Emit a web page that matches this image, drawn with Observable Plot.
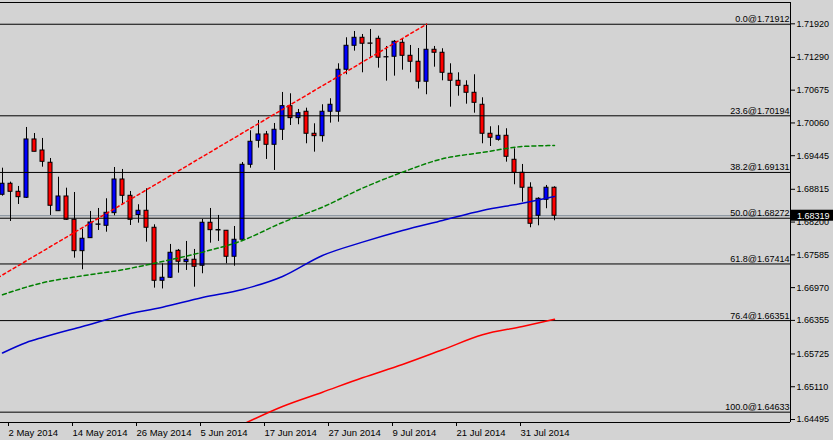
<!DOCTYPE html>
<html>
<head>
<meta charset="utf-8">
<script src="https://cdn.jsdelivr.net/npm/d3@7"></script>
<script src="https://cdn.jsdelivr.net/npm/@observablehq/plot@0.6"></script>
<style>
  html, body { margin: 0; padding: 0; background: #d3d3d3; }
  #chart svg { display: block; }
</style>
</head>
<body>
<div id="chart"></div>
<script>
// ---- Data (GBP/USD daily) ----
const firstDate = "2014-05-01";
const open = [1.68712,1.68919,1.68768,1.68656,1.69750,1.69543,1.69313,1.68404,1.68680,1.68243,
1.67654,1.67898,1.68149,1.68130,1.68367,1.68999,1.68693,1.68333,1.68412,1.68093,
1.67098,1.67155,1.67661,1.67448,1.67493,1.67380,1.68187,1.68052,1.68037,1.67549,
1.67868,1.69275,1.69725,1.69844,1.69650,1.69932,1.70375,1.70150,1.70270,1.69857,
1.69812,1.70270,1.70270,1.71058,1.71508,1.71658,1.71551,1.71639,1.71290,1.71302,
1.71564,1.71320,1.71208,1.70833,1.71433,1.71377,1.70983,1.70851,1.70757,1.70626,
1.70401,1.69857,1.69744,1.69819,1.69369,1.69125,1.68844,1.68318,1.68618,1.68844];
const high = [1.69211,1.68949,1.68868,1.69975,1.69862,1.69769,1.69393,1.69042,1.68836,1.68755,
1.68067,1.68399,1.68455,1.68637,1.69224,1.69187,1.68774,1.68525,1.68825,1.68149,
1.67417,1.67780,1.67686,1.67836,1.67686,1.68249,1.68455,1.68324,1.68042,1.68117,
1.69318,1.69913,1.70106,1.69900,1.70050,1.70632,1.70607,1.70313,1.70337,1.70044,
1.70401,1.70514,1.71170,1.71658,1.71776,1.71720,1.71814,1.71688,1.71495,1.71607,
1.71639,1.71514,1.71457,1.71912,1.71495,1.71452,1.71170,1.71001,1.70851,1.70964,
1.70532,1.69988,1.70007,1.69951,1.69575,1.69281,1.68937,1.68656,1.68887,1.68862];
const low = [1.68686,1.68211,1.68530,1.68643,1.69519,1.69230,1.68324,1.68399,1.68230,1.67523,
1.67305,1.67892,1.68042,1.68010,1.68318,1.68525,1.68136,1.68179,1.67823,1.66960,
1.66945,1.67142,1.67241,1.67292,1.66978,1.67230,1.67804,1.67836,1.67417,1.67372,
1.67842,1.69211,1.69587,1.69375,1.69168,1.69731,1.70012,1.70026,1.69669,1.69512,
1.69699,1.70056,1.70074,1.70964,1.71407,1.71001,1.71294,1.71088,1.70844,1.70938,
1.71050,1.71001,1.70697,1.70589,1.71106,1.70851,1.70356,1.70562,1.70412,1.70243,
1.69669,1.69618,1.69718,1.69324,1.68900,1.68573,1.68093,1.68130,1.68450,1.68224];
const close = [1.68919,1.68768,1.68667,1.69750,1.69519,1.69331,1.68506,1.68680,1.68243,1.67654,
1.67887,1.68192,1.68155,1.68374,1.68999,1.68693,1.68243,1.68412,1.68093,1.67098,
1.67155,1.67624,1.67455,1.67493,1.67361,1.68187,1.68048,1.68042,1.67549,1.67868,
1.69275,1.69707,1.69844,1.69650,1.69932,1.70375,1.70150,1.70243,1.69857,1.69812,
1.70270,1.70401,1.71058,1.71508,1.71658,1.71546,1.71546,1.71283,1.71294,1.71583,
1.71320,1.71208,1.70833,1.71433,1.71377,1.71001,1.70851,1.70757,1.70626,1.70438,
1.69857,1.69782,1.69819,1.69425,1.69125,1.68844,1.68168,1.68637,1.68844,1.68319];

// Moving averages sampled at these dates
const maGreenDates = ["2014-05-01","2014-05-08","2014-05-15","2014-05-22","2014-05-29","2014-06-05","2014-06-12","2014-06-19","2014-06-26","2014-07-03","2014-07-10","2014-07-17","2014-07-24","2014-07-31","2014-08-06"];
const maGreen = [1.66836,1.67061,1.67192,1.67305,1.67461,1.67635,1.67855,1.68192,1.68480,1.68836,1.69136,1.69388,1.69506,1.69618,1.69637];
const maBlueDates = ["2014-05-01","2014-05-06","2014-05-08","2014-05-15","2014-05-22","2014-05-29","2014-06-05","2014-06-12","2014-06-19","2014-06-26","2014-07-03","2014-07-10","2014-07-17","2014-07-24","2014-07-31","2014-08-06"];
const maBlue = [1.65744,1.65941,1.66035,1.66241,1.66447,1.66603,1.66785,1.66935,1.67179,1.67573,1.67823,1.68042,1.68230,1.68418,1.68555,1.68680];
const maRedDates = ["2014-06-12","2014-06-19","2014-06-26","2014-07-03","2014-07-10","2014-07-17","2014-07-24","2014-07-31","2014-08-06"];
const maRed = [1.64402,1.64740,1.65008,1.65278,1.65528,1.65804,1.66085,1.66241,1.66378];

// Fibonacci retracement
const fibLevels = [0.0, 23.6, 38.2, 50.0, 61.8, 76.4, 100.0];
const fibPrices = [1.71912, 1.70194, 1.69131, 1.68272, 1.67414, 1.66351, 1.64633];
const fibAnchorDates = ["2014-03-21", "2014-07-15"];
const fibAnchorPrices = [1.64633, 1.71912];

// Axis ticks
const yTicks = [1.71920, 1.71290, 1.70675, 1.70060, 1.69445, 1.68815, 1.68200, 1.67585, 1.66970, 1.66355, 1.65725, 1.65110, 1.64495];
const xTickLabels = ["2 May 2014","14 May 2014","26 May 2014","5 Jun 2014","17 Jun 2014","27 Jun 2014","9 Jul 2014","21 Jul 2014","31 Jul 2014"];
const months = ["Jan","Feb","Mar","Apr","May","Jun","Jul","Aug","Sep","Oct","Nov","Dec"];

// ---- Build ----
const DAY = 86400000;
const base = new Date(firstDate + "T00:00:00Z");
function tradingIndex(str) {
  const t = new Date(str + "T00:00:00Z");
  let n = 0;
  const step = t >= base ? 1 : -1;
  let d = new Date(base);
  while (d.getTime() !== t.getTime()) {
    d = new Date(d.getTime() + step * DAY);
    const wd = d.getUTCDay();
    if (wd !== 0 && wd !== 6) n += step;
  }
  return n;
}
const dates = [];
{
  let d = new Date(base);
  while (dates.length < open.length) {
    const wd = d.getUTCDay();
    if (wd !== 0 && wd !== 6) dates.push(new Date(d));
    d = new Date(d.getTime() + DAY);
  }
}
const fmt = d => `${d.getUTCDate()} ${months[d.getUTCMonth()]} ${d.getUTCFullYear()}`;
const candles = open.map((o, i) => ({i, open: o, high: high[i], low: low[i], close: close[i]}));
const series = (ds, vs) => ds.map((s, k) => ({i: tradingIndex(s), v: vs[k]}));
const greenData = series(maGreenDates, maGreen);
const blueData = series(maBlueDates, maBlue);
const redData = series(maRedDates, maRed);
const fibTrend = series(fibAnchorDates, fibAnchorPrices);
const fibs = fibLevels.map((l, k) => ({level: l, price: fibPrices[k]}));
const xTicks = xTickLabels.map(l => dates.findIndex(d => fmt(d) === l));
const lastClose = close[close.length - 1];

const xDomain = [-0.25, 98.5];
const yDomain = [1.64439, 1.72320];

const chart = Plot.plot({
  width: 833,
  height: 440,
  marginTop: 2,
  marginBottom: 18,
  marginLeft: 0,
  marginRight: 43,
  x: {type: "linear", domain: xDomain, axis: null, label: null},
  y: {type: "linear", domain: yDomain, axis: null, label: null},
  style: {background: "#d3d3d3", color: "black", fontFamily: "'Liberation Sans', Arial, sans-serif", fontSize: "9px"},
  marks: [
    Plot.ruleY([lastClose], {stroke: "#7f8c99"}),
    Plot.ruleX(candles, {x: "i", y1: "low", y2: "high", stroke: "black", strokeWidth: 1}),
    Plot.rect(candles, {
      x1: d => d.i - 0.25, x2: d => d.i + 0.25,
      y1: "open", y2: "close",
      fill: d => d.close > d.open ? "#0000ff" : "#ff0000",
      stroke: "black", strokeWidth: 1
    }),
    Plot.ruleY(fibs, {y: "price", stroke: "black"}),
    Plot.text(fibs, {
      y: "price", frameAnchor: "right", textAnchor: "end", lineAnchor: "bottom",
      dx: -1, dy: -2, fill: "black", fontSize: 9,
      text: d => `${d.level.toFixed(1)}@${d.price.toFixed(5)}`
    }),
    Plot.line(fibTrend, {x: "i", y: "v", stroke: "#ff0000", strokeDasharray: "3,3", clip: true}),
    Plot.line(greenData, {x: "i", y: "v", stroke: "#008000", strokeDasharray: "4,3", curve: "monotone-x", clip: true}),
    Plot.line(blueData, {x: "i", y: "v", stroke: "#0000cd", curve: "monotone-x", clip: true}),
    Plot.line(redData, {x: "i", y: "v", stroke: "#ff0000", curve: "monotone-x", clip: true}),
    Plot.ruleY(yDomain, {stroke: "black"}),
    Plot.ruleX([xDomain[1]], {stroke: "black"}),
    Plot.axisY(yTicks, {anchor: "right", label: null, tickSize: 4, tickPadding: 2, fontSize: 9, tickFormat: d => d.toFixed(5)}),
    Plot.axisX(xTicks, {anchor: "bottom", label: null, tickSize: 4, tickPadding: 3, fontSize: 9.5, textAnchor: "start", dx: -2, tickFormat: i => fmt(dates[i])})
  ]
});
document.getElementById("chart").appendChild(chart);

// current price label box on the right axis
const yPix = chart.scale("y").apply(lastClose) + 0.5;
const xPix = chart.scale("x").apply(xDomain[1]) + 1;
const svg = d3.select(chart);
const g = svg.append("g").attr("text-anchor", "start");
g.append("rect").attr("x", xPix).attr("y", yPix - 6).attr("width", 833 - xPix).attr("height", 11).attr("fill", "black");
g.append("text").attr("x", xPix + 6).attr("y", yPix).attr("dy", "0.35em")
  .attr("text-anchor", "start")
  .attr("fill", "white").attr("font-size", 9).text(lastClose.toFixed(5));
</script>
</body>
</html>
